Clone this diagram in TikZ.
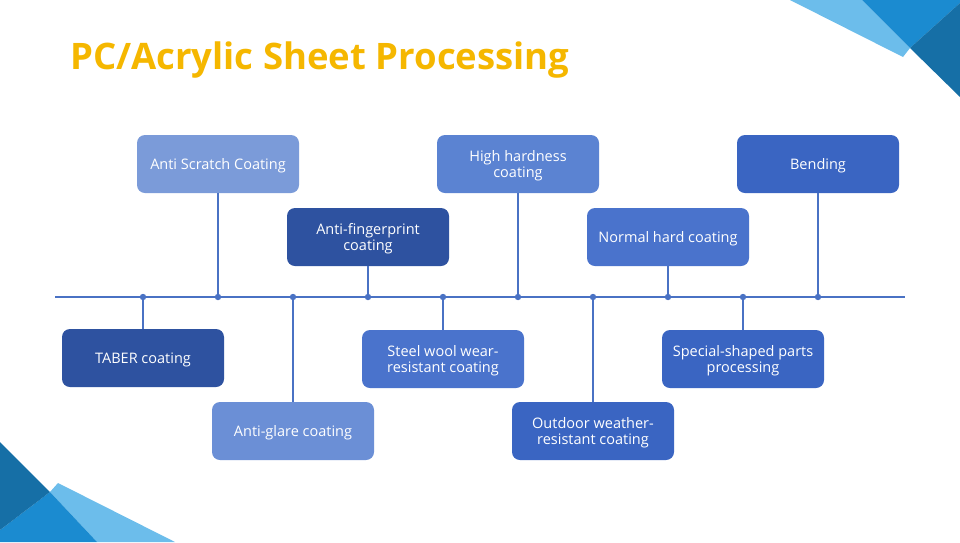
\documentclass[tikz,border=0pt]{standalone}
\usepackage{fontspec}
\setmainfont{Open Sans}
\usetikzlibrary{positioning}
\definecolor{titlegold}{HTML}{F5B700}
\definecolor{linkblue}{HTML}{4A72C4}
\definecolor{boxdark}{HTML}{2E52A0}
\definecolor{boxmid}{HTML}{3A65C2}
\definecolor{boxmed}{HTML}{4A73CC}
\definecolor{boxsoft}{HTML}{5B83D2}
\definecolor{boxlight}{HTML}{6B8FD6}
\definecolor{boxpale}{HTML}{7B9BD9}
\definecolor{skylight}{HTML}{6CBDEB}
\definecolor{skymid}{HTML}{1B8BD0}
\definecolor{skydark}{HTML}{166FA6}

\begin{document}
\begin{tikzpicture}[x=1pt, y=-1pt,
    procbox/.style={rounded corners=8pt, minimum width=162pt, minimum height=58pt,
      align=center, text=white, font=\fontsize{14.5}{16.5}\selectfont, inner sep=2pt,
      text depth=0pt},
    stem/.style={linkblue, line width=1.8pt}]
  \useasboundingbox (0,0) rectangle (960,542);
  \fill[white] (0,0) rectangle (960,542);
  % corner decoration
  \fill[skylight] (790,0) -- (862,0) -- (910,48) -- (903,57) -- cycle;
  \fill[skymid] (862,0) -- (960,0) -- (960,3) -- (910,48) -- cycle;
  \fill[skydark] (910,48) -- (960,3) -- (960,97) -- cycle;
  \fill[skylight] (58,483) -- (175,542) -- (97,542) -- (50,492) -- cycle;
  \fill[skymid] (0,530) -- (50,492) -- (97,542) -- (0,542) -- cycle;
  \fill[skydark] (0,442) -- (50,492) -- (0,530) -- cycle;
  % title
  \node[anchor=west, text=titlegold, font=\fontsize{36.5}{42}\selectfont\bfseries, inner sep=0pt]
    (title) at (70,60) {PC/Acrylic Sheet Processing};
  % timeline
  \coordinate (lineL) at (55,297);
  \coordinate (lineR) at (905,297);
  \draw[stem] (lineL) -- (lineR);
  \foreach \i in {1,...,10}{
    \coordinate (d\i) at (68+75*\i,297);
  }
  % upper boxes
  \node[procbox, fill=boxpale] (scratch) at (218,164) {Anti Scratch Coating};
  \node[procbox, fill=boxdark] (finger) at (368,237) {Anti-fingerprint\\coating};
  \node[procbox, fill=boxsoft] (hardness) at (518,164) {High hardness\\coating};
  \node[procbox, fill=boxmed] (normal) at (668,237) {Normal hard coating};
  \node[procbox, fill=boxmid] (bending) at (818,164) {Bending};
  % lower boxes
  \node[procbox, fill=boxdark] (taber) at (143,358) {TABER coating};
  \node[procbox, fill=boxlight] (glare) at (293,431) {Anti-glare coating};
  \node[procbox, fill=boxmed] (steel) at (443,359) {Steel wool wear-\\resistant coating};
  \node[procbox, fill=boxmid] (outdoor) at (593,431) {Outdoor weather-\\resistant coating};
  \node[procbox, fill=boxmid] (special) at (743,359) {Special-shaped parts\\processing};
  % stems
  \draw[stem] (taber.north) -- (d1);
  \draw[stem] (scratch.south) -- (d2);
  \draw[stem] (glare.north) -- (d3);
  \draw[stem] (finger.south) -- (d4);
  \draw[stem] (steel.north) -- (d5);
  \draw[stem] (hardness.south) -- (d6);
  \draw[stem] (outdoor.north) -- (d7);
  \draw[stem] (normal.south) -- (d8);
  \draw[stem] (special.north) -- (d9);
  \draw[stem] (bending.south) -- (d10);
  \foreach \i in {1,...,10}{
    \fill[linkblue] (d\i) circle (3.2pt);
  }
\end{tikzpicture}
\end{document}
